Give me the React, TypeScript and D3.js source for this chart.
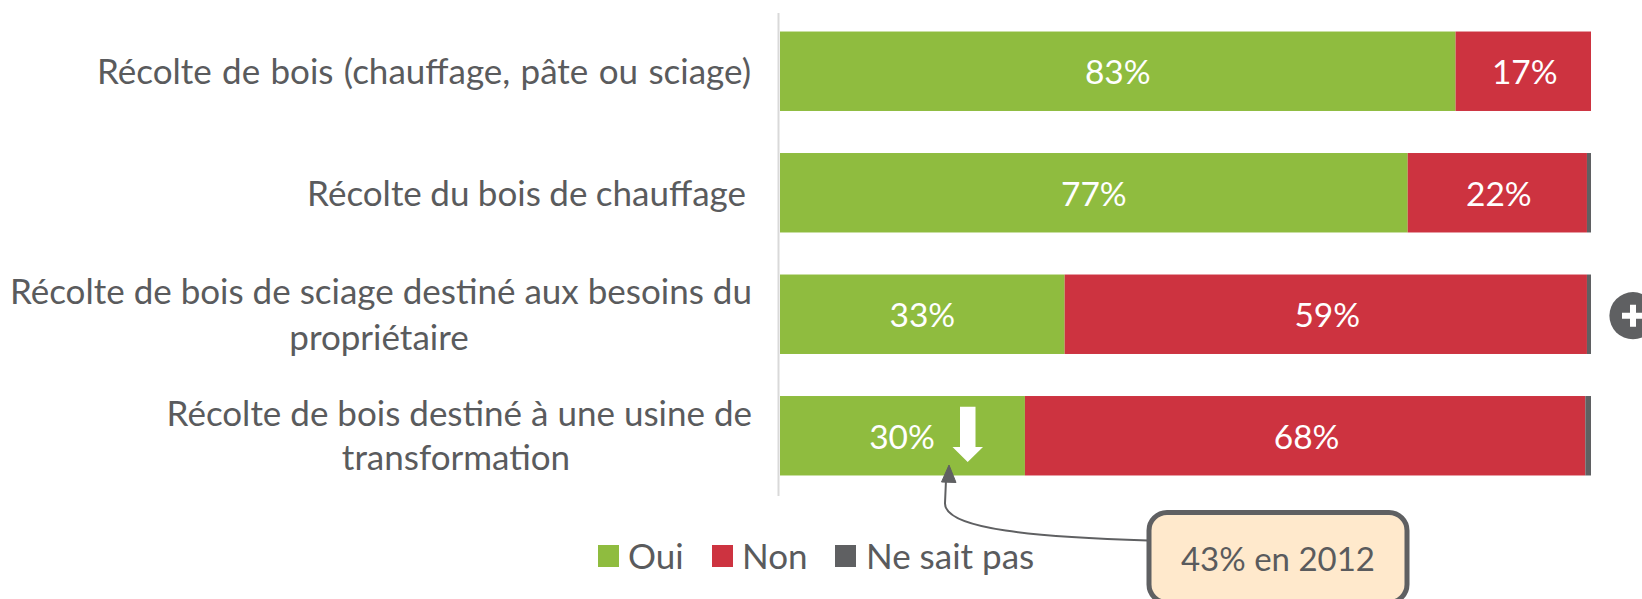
import React from "react";
import * as d3 from "d3";

const categories = [
  ["Récolte de bois (chauffage, pâte ou sciage)"],
  ["Récolte du bois de chauffage"],
  ["Récolte de bois de sciage destiné aux besoins du", "propriétaire"],
  ["Récolte de bois destiné à une usine de", "transformation"],
];
const oui = [83.3, 77.4, 35.1, 30.2];
const non = [16.7, 22.1, 64.4, 69.1];
const nsp = [0, 0.5, 0.5, 0.7];
const ouiLabels = ["83%", "77%", "33%", "30%"];
const nonLabels = ["17%", "22%", "59%", "68%"];
const legendItems = ["Oui", "Non", "Ne sait pas"];
const callout = "43% en 2012";

const GREEN = "#8fbc3f";
const RED = "#cd3340";
const GREY = "#5f6062";
const TEXT = "#5a5b5d";
const FONT = "Lato, Carlito, sans-serif";
const LABEL_SIZE = 35;
const VALUE_SIZE = 33.5;

export default function App() {
  const x = d3.scaleLinear().domain([0, 100]).range([780, 1591]);
  const y = d3
    .scaleBand<number>()
    .domain(d3.range(categories.length))
    .range([10.5, 496.5])
    .paddingInner(0.346)
    .paddingOuter(0.173);
  const h = y.bandwidth();
  const stack = d3.stack<number>().keys(["oui", "non", "nsp"]).value((i, k) =>
    k === "oui" ? oui[i] : k === "non" ? non[i] : nsp[i]
  )(d3.range(categories.length));
  const colors = [GREEN, RED, GREY];
  const centers = [0, 0, 379, 456];
  const connector = d3.path();
  connector.moveTo(1148, 540.5);
  connector.bezierCurveTo(1040, 537, 944, 530, 945, 503);
  connector.lineTo(946, 480);

  return (
    <svg
      width={1642}
      height={599}
      style={{ position: "absolute", left: 0, top: 0, background: "#fff" }}
      fontFamily={FONT}
    >
      <line x1={778.5} x2={778.5} y1={13} y2={496} stroke="#d9d9d9" strokeWidth={2} />
      {stack.map((s, si) => (
        <g key={si} fill={colors[si]}>
          {s.map((d, i) => (
            <rect key={i} x={x(d[0])} width={x(d[1]) - x(d[0])} y={y(i)} height={h} />
          ))}
        </g>
      ))}
      <g fontSize={VALUE_SIZE} fill="#fff" textAnchor="middle">
        {categories.map((_, i) => {
          const cy = y(i)! + h / 2 + 13;
          const ox = i === 3 ? 902 : x(oui[i] / 2);
          return (
            <React.Fragment key={i}>
              <text x={ox} y={cy}>{ouiLabels[i]}</text>
              <text x={x(oui[i] + non[i] / 2) + 1.5} y={cy}>{nonLabels[i]}</text>
            </React.Fragment>
          );
        })}
      </g>
      <g fontSize={LABEL_SIZE} fill={TEXT}>
        {categories.map((lines, i) => {
          const cy = y(i)! + h / 2;
          if (lines.length === 1)
            return (
              <text key={i} x={i === 0 ? 751 : 746} y={cy + 13} textAnchor="end" wordSpacing={i === 0 ? 1.4 : -0.5}>{lines[0]}</text>
            );
          return (
            <g key={i}>
              <text x={752} y={cy - 10} textAnchor="end">{lines[0]}</text>
              <text x={centers[i]} y={cy + (i === 2 ? 36 : 34)} textAnchor="middle">{lines[1]}</text>
            </g>
          );
        })}
      </g>
      <path d="M960 406.7h15.5V447H983L967.7 462 952.5 447H960Z" fill="#fff" />
      <path d={connector.toString()} fill="none" stroke={GREY} strokeWidth={2} />
      <path d="M949 465L956 482.5 941.5 482Z" fill={GREY} stroke={GREY} strokeWidth={1} />
      <rect x={1149} y={512.5} width={258} height={90} rx={18} fill="#ffe9cc" stroke={GREY} strokeWidth={5} />
      <text x={1278} y={570.5} textAnchor="middle" fontSize={33} fill={TEXT}>{callout}</text>
      <g fontSize={LABEL_SIZE} fill={TEXT}>
        {legendItems.map((t, i) => {
          const sx = [598, 712, 835][i];
          const tx = [628, 742, 866][i];
          return (
            <g key={t}>
              <rect x={sx} y={545} width={21} height={22} fill={colors[i]} />
              <text x={tx} y={569}>{t}</text>
            </g>
          );
        })}
      </g>
      <circle cx={1633} cy={315.7} r={23.6} fill={GREY} />
      <path d="M1622 315.7H1644M1633 304.7V326.7" stroke="#fff" strokeWidth={6} />
    </svg>
  );
}
